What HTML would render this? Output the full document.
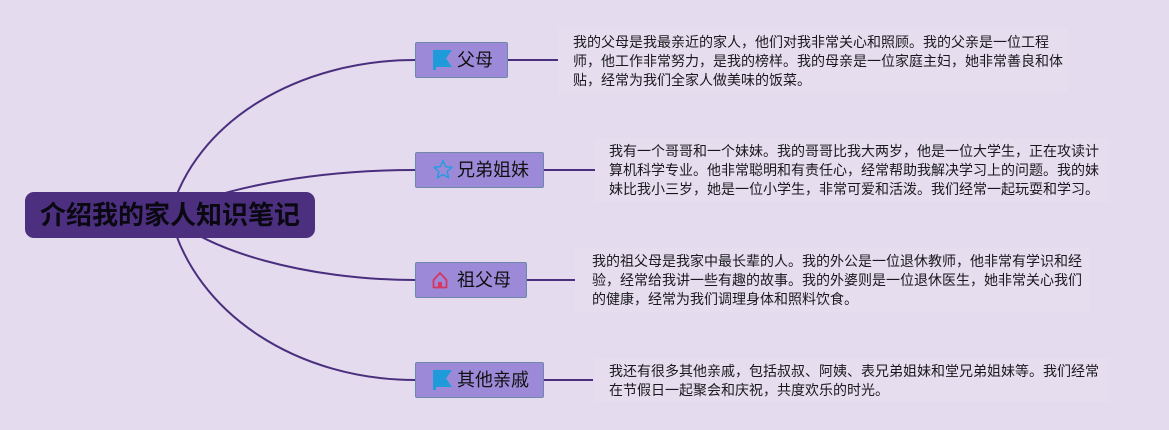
<!DOCTYPE html>
<html>
<head>
<meta charset="utf-8">
<style>
  html,body{margin:0;padding:0;}
  body{width:1169px;height:430px;background:#e4dbee;position:relative;overflow:hidden;
    font-family:"Liberation Sans","Noto Sans CJK SC",sans-serif;}
  svg{position:absolute;left:0;top:0;}
  .root{position:absolute;left:25px;top:192px;width:290px;height:46px;background:#4d2f80;border-radius:9px;
    color:#0a0810;font-weight:700;font-size:26px;line-height:46px;text-align:center;letter-spacing:0;
    font-family:"Liberation Sans","Noto Sans CJK SC",sans-serif;}
  .node{position:absolute;left:415px;height:35px;background:#9c8ad8;border:1px solid #6f88aa;box-sizing:border-box;border-radius:2px;}
  .nt{position:absolute;left:457px;font-size:18px;line-height:20px;color:#111;white-space:nowrap;}
  .tb{position:absolute;font-size:14px;line-height:19px;color:#1a181e;white-space:nowrap;}
  .bg{position:absolute;background:#e6deef;}
</style>
</head>
<body>
<div class="bg" style="left:558px;top:28px;width:510px;height:65px;"></div>
<div class="bg" style="left:595px;top:138px;width:513px;height:64px;"></div>
<div class="bg" style="left:575px;top:248px;width:515px;height:64px;"></div>
<div class="bg" style="left:595px;top:358px;width:513px;height:44px;"></div>

<svg width="1169" height="430" viewBox="0 0 1169 430">
  <g fill="none" stroke="#4a2f7e" stroke-width="2">
    <path d="M170 215 C195 120 300 60 415 60"/>
    <path d="M170 215 C210 190 310 170 415 170"/>
    <path d="M170 215 C205 250 305 280 415 280"/>
    <path d="M170 215 C195 316 300 380 415 380"/>
    <line x1="508" y1="60" x2="558" y2="60"/>
    <line x1="544" y1="170" x2="595" y2="170"/>
    <line x1="527" y1="280" x2="575" y2="280"/>
    <line x1="544" y1="380" x2="593" y2="380"/>
  </g>
</svg>

<div class="root">介绍我的家人知识笔记</div>

<div class="node" style="top:42px;width:93px;height:36px;"></div>
<div class="node" style="top:152px;width:129px;height:36px;"></div>
<div class="node" style="top:262px;width:112px;height:36px;"></div>
<div class="node" style="top:362px;width:129px;height:36px;"></div>

<svg width="1169" height="430" viewBox="0 0 1169 430">
  <polygon points="433,50 452,50 446,58.5 452,67 436,67 436,70 433,70" fill="#1e9bd8"/>
  <polygon points="443,160.5 445.6,166.6 452,167.2 447.2,171.5 448.6,177.8 443,174.5 437.4,177.8 438.8,171.5 434,167.2 440.4,166.6"
    fill="none" stroke="#2a9be0" stroke-width="1.5" stroke-linejoin="round"/>
  <path d="M433.5 280 L440 273 L446.5 280 L446.5 287.5 L433.5 287.5 Z" fill="none" stroke="#d6365f" stroke-width="1.8" stroke-linejoin="round"/>
  <rect x="438" y="282" width="4" height="5.5" fill="#d6365f"/>
  <polygon points="433,370 452,370 446,378.5 452,387 436,387 436,390 433,390" fill="#1e9bd8"/>
</svg>

<div class="nt" style="top:50px;">父母</div>
<div class="nt" style="top:160px;">兄弟姐妹</div>
<div class="nt" style="top:270px;">祖父母</div>
<div class="nt" style="top:370px;">其他亲戚</div>

<div class="tb" style="left:573px;top:33px;">我的父母是我最亲近的家人，他们对我非常关心和照顾。我的父亲是一位工程<br>师，他工作非常努力，是我的榜样。我的母亲是一位家庭主妇，她非常善良和体<br>贴，经常为我们全家人做美味的饭菜。</div>
<div class="tb" style="left:609px;top:142px;">我有一个哥哥和一个妹妹。我的哥哥比我大两岁，他是一位大学生，正在攻读计<br>算机科学专业。他非常聪明和有责任心，经常帮助我解决学习上的问题。我的妹<br>妹比我小三岁，她是一位小学生，非常可爱和活泼。我们经常一起玩耍和学习。</div>
<div class="tb" style="left:592px;top:252px;">我的祖父母是我家中最长辈的人。我的外公是一位退休教师，他非常有学识和经<br>验，经常给我讲一些有趣的故事。我的外婆则是一位退休医生，她非常关心我们<br>的健康，经常为我们调理身体和照料饮食。</div>
<div class="tb" style="left:609px;top:362px;">我还有很多其他亲戚，包括叔叔、阿姨、表兄弟姐妹和堂兄弟姐妹等。我们经常<br>在节假日一起聚会和庆祝，共度欢乐的时光。</div>
</body>
</html>
